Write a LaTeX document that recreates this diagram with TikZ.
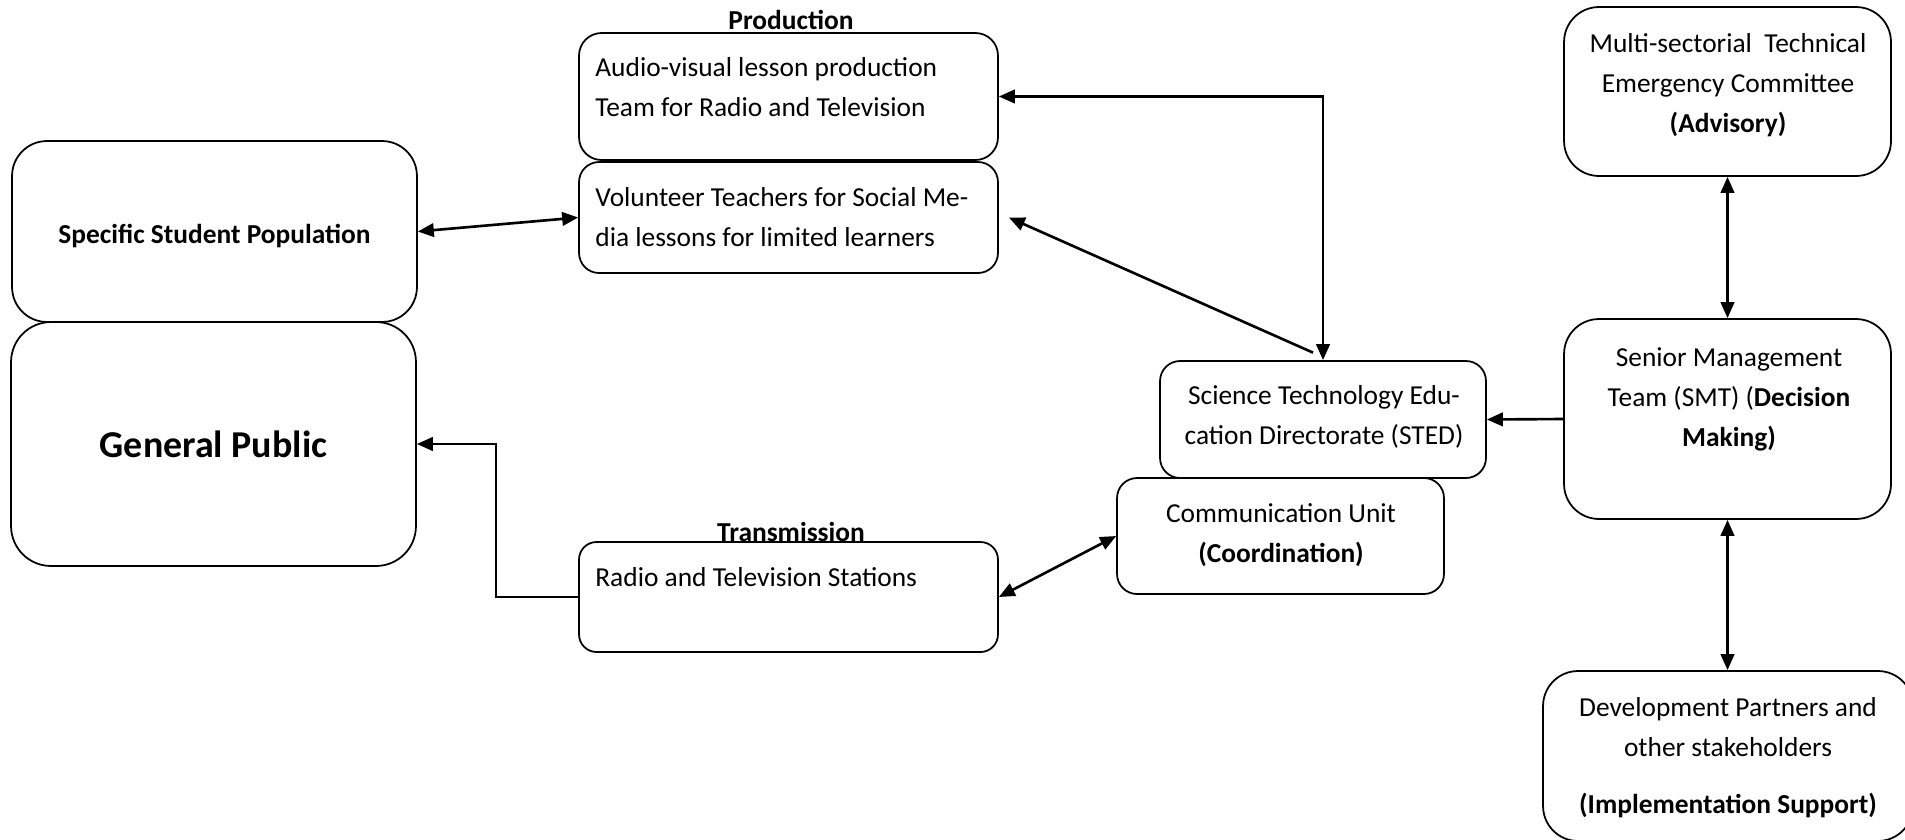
\documentclass[tikz,border=0pt]{standalone}
\usepackage{fontspec}
\setmainfont{Carlito}
\usetikzlibrary{arrows.meta}

\begin{document}
\begin{tikzpicture}[x=0.02cm,y=-0.02cm,
  box/.style={draw,line width=1pt,rounded corners=#1,inner sep=0pt},
  box/.default=0.4cm,
  txt/.style={font=\fontsize{15.6}{22.8}\selectfont,inner sep=0pt},
  head/.style={line width=1.5pt,-{Triangle[length=0.32cm,width=0.27cm]}},
  heads/.style={line width=1.5pt,{Triangle[length=0.32cm,width=0.27cm]}-{Triangle[length=0.32cm,width=0.27cm]}}]
\useasboundingbox (0,0) rectangle (1905,839);

%left side: the audiences
\node[box=0.7cm,minimum width=8.1cm,minimum height=3.62cm,font=\fontsize{15.6}{22.8}\selectfont\bfseries,text height=0.55cm] (ssp) at (214.5,231.5) {Specific Student Population};
\node[box=0.8cm,minimum width=8.1cm,minimum height=4.88cm,font=\fontsize{21.6}{26}\selectfont\bfseries] (gp) at (213.5,444) {General Public};

%middle: production and transmission
\node[txt,font=\fontsize{15.6}{22.8}\selectfont\bfseries] (prodlbl) at (791,20) {Production};
\node[box=0.45cm,minimum width=8.38cm,minimum height=2.54cm] (aud) at (788.5,96.5) {};
\node[txt,align=left,anchor=west] (audtxt) at (595,87.5) {Audio-visual lesson production\\Team for Radio and Television};
\node[box,minimum width=8.38cm,minimum height=2.22cm] (vol) at (788.5,217.5) {};
\node[txt,align=left,anchor=west] (voltxt) at (595,217.5) {Volunteer Teachers for Social Me-\\dia lessons for limited learners};

\node[txt,font=\fontsize{15.6}{22.8}\selectfont\bfseries] (translbl) at (791,532) {Transmission};
\node[box=0.35cm,minimum width=8.38cm,minimum height=2.2cm] (radio) at (788.5,597) {};
\node[txt,anchor=west] (radiotxt) at (595,577) {Radio and Television Stations};

%STED and communication unit
\node[box,minimum width=6.52cm,minimum height=2.34cm] (sted) at (1323,419.5) {};
\node[txt,align=center] (stedtxt) at (1324,417) {Science Technology Edu-\\cation Directorate (STED)};
\node[box,minimum width=6.54cm,minimum height=2.32cm] (comm) at (1280.5,536) {};
\node[txt,align=center] (commtxt) at (1281,535) {Communication Unit\\\textbf{(Coordination)}};

%right side
\node[box=0.7cm,minimum width=6.54cm,minimum height=3.38cm] (multi) at (1727.5,91.5) {};
\node[txt,align=center] (multitxt) at (1728,85) {Multi-sectorial\ \ Technical\\Emergency Committee\\\textbf{(Advisory)}};
\node[box=0.7cm,minimum width=6.54cm,minimum height=4cm] (smt) at (1727.5,419) {};
\node[txt,align=center] (smttxt) at (1729,399) {Senior Management\\Team (SMT) (\textbf{Decision}\\\textbf{Making)}};
\node[box=0.7cm,minimum width=7.4cm,minimum height=3.4cm] (dev) at (1728,756) {};
\node[txt,align=center] (devtxt) at (1728,758) {Development Partners and\\other stakeholders\\[0.34cm]\textbf{(Implementation Support)}};

%connectors
\draw[heads] (ssp.east) -- (vol.west);
\draw[heads] (aud.east) -| (sted.north);
\draw[head] ([xshift=-0.2cm,yshift=0.15cm]sted.north) -- ([xshift=0.2cm]vol.east);
\draw[head] (radio.west) -- ++(-82,0) |- (gp.east);
\draw[heads] (radio.east) -- (comm.west);
\draw[head] (smt.west) -- (sted.east);
\draw[heads] (multi.south) -- (smt.north);
\draw[heads] (smt.south) -- (smt.south |- dev.north);

\end{tikzpicture}
\end{document}
